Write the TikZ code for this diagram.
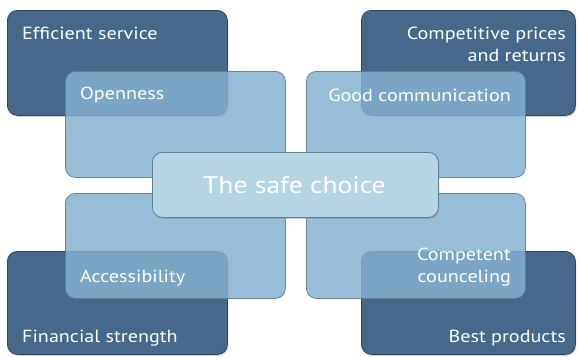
\documentclass[tikz,border=0pt]{standalone}
\usepackage{fontspec}
\setmainfont{PT Sans}[FakeStretch=1.15]
\usetikzlibrary{shadows}
\definecolor{darkbox}{RGB}{70,105,139}
\definecolor{darkedge}{RGB}{45,70,95}
\definecolor{medbox}{RGB}{133,177,207}
\definecolor{mededge}{RGB}{95,125,148}
\definecolor{centbox}{RGB}{182,213,226}
\definecolor{centedge}{RGB}{95,125,148}
\tikzset{
  box/.style={draw, rounded corners=10pt, line width=0.8pt, inner sep=0pt},
  darkstyle/.style={box, fill=darkbox, draw=darkedge, drop shadow={shadow xshift=1pt, shadow yshift=-1.5pt, opacity=0.35}},
  medstyle/.style={box, fill=medbox, fill opacity=0.845, draw=mededge, draw opacity=0.9},
  centstyle/.style={box, fill=centbox, draw=centedge, drop shadow={shadow xshift=1pt, shadow yshift=-1.5pt, opacity=0.35}},
  lbl/.style={text=white, font=\fontsize{17.5}{22}\selectfont, inner sep=0pt},
}
\begin{document}
\begin{tikzpicture}[x=1pt,y=-1pt]
\useasboundingbox (0,0) rectangle (578,356);
% dark boxes
\node[darkstyle, minimum width=220pt, minimum height=105pt, anchor=north west] (tl) at (7,10) {};
\node[darkstyle, minimum width=214pt, minimum height=105pt, anchor=north west] (tr) at (361,10) {};
\node[darkstyle, minimum width=220pt, minimum height=103pt, anchor=north west] (bl) at (7,251) {};
\node[darkstyle, minimum width=214pt, minimum height=103pt, anchor=north west] (br) at (361,251) {};
% medium boxes
\node[medstyle, minimum width=220pt, minimum height=106pt, anchor=north west] (tlm) at (65,71) {};
\node[medstyle, minimum width=219pt, minimum height=106pt, anchor=north west] (trm) at (306,71) {};
\node[medstyle, minimum width=220pt, minimum height=105pt, anchor=north west] (blm) at (65,193) {};
\node[medstyle, minimum width=219pt, minimum height=105pt, anchor=north west] (brm) at (306,193) {};
% center
\node[centstyle, minimum width=286pt, minimum height=65pt, anchor=north west] (c) at (152,152) {};
% labels
\node[lbl, anchor=west] (t1) at (22,33) {Efficient service};
\node[lbl, anchor=east, align=right] (t2) at (566,44) {Competitive prices\\and returns};
\node[lbl, anchor=west] (t3) at (80,95) {Openness};
\node[lbl, anchor=east] (t4) at (511,95) {Good communication};
\node[text=white, font=\fontsize{24}{27}\selectfont, inner sep=0pt] (t5) at ([xshift=-1pt]c.center) {The safe choice};
\node[lbl, anchor=west] (t6) at (80,278) {Accessibility};
\node[lbl, anchor=east, align=right] (t7) at (511,267) {Competent\\counceling};
\node[lbl, anchor=west] (t8) at (22,338) {Financial strength};
\node[lbl, anchor=east] (t9) at (566,338) {Best products};
\end{tikzpicture}
\end{document}
